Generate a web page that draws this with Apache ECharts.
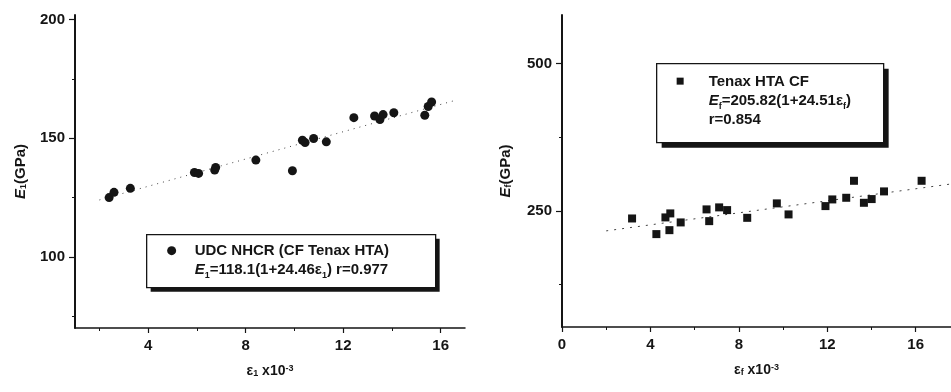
<!DOCTYPE html>
<html>
<head>
<meta charset="utf-8">
<script src="https://cdn.jsdelivr.net/npm/echarts@6/dist/echarts.min.js"></script>
<style>
  html, body { margin: 0; padding: 0; background: #fff; }
  #chart { width: 951px; height: 392px; }
</style>
</head>
<body>
<div id="chart"></div>
<script>
// left panel: UDC NHCR (CF Tenax HTA), strain x10^-3 vs E1 (GPa)
const leftStrain = [2.4, 2.6, 3.27, 5.9, 6.07, 6.73, 6.77, 8.42, 9.92, 10.33, 10.44, 10.79, 11.31, 12.44, 13.29, 13.51, 13.64, 14.08, 15.35, 15.49, 15.63]
const leftModulus = [125, 127.2, 128.9, 135.6, 135.2, 136.6, 137.7, 140.8, 136.3, 149.2, 148.2, 149.9, 148.5, 158.7, 159.4, 157.9, 160, 160.8, 159.7, 163.4, 165.3]
const leftFitX = [2, 16.6]
const leftFitY = [124, 166]

// right panel: Tenax HTA CF, strain x10^-3 vs Ef (GPa)
const rightStrain = [3.17, 4.27, 4.68, 4.86, 4.9, 5.37, 6.54, 6.66, 7.11, 7.47, 8.38, 9.72, 10.25, 11.92, 12.23, 12.86, 13.21, 13.66, 14.01, 14.57, 16.27]
const rightModulus = [237, 210.5, 238.8, 217.2, 245.6, 230.3, 252.4, 232.5, 255.8, 251.2, 238.1, 262.6, 243.9, 258, 269.3, 272.1, 300.9, 263.6, 269.9, 282.9, 300.9]
const rightFitX = [2, 17.7]
const rightFitY = [216, 296]

// tick labels
const leftXTicks = [4, 8, 12, 16]
const leftXMinor = [2, 6, 10, 14]
const leftYTicks = [100, 150, 200]
const leftYMinor = [75, 125, 175]
const rightXTicks = [0, 4, 8, 12, 16]
const rightXMinor = [2, 6, 10, 14]
const rightYTicks = [250, 500]
const rightYMinor = [125, 375]

const FONT = 'Liberation Sans, Arial, sans-serif'
const INK = '#151515'

const zip = (xs, ys) => xs.map((x, i) => [x, ys[i]])

const rich = {
  e: { fontStyle: 'italic', fontWeight: 'bold', fontSize: 15, fontFamily: FONT, color: INK },
  s: { fontWeight: 'bold', fontSize: 9, fontFamily: FONT, color: INK, verticalAlign: 'bottom', lineHeight: 10 },
  p: { fontWeight: 'bold', fontSize: 9, fontFamily: FONT, color: INK, verticalAlign: 'top', lineHeight: 10 }
}

const majorX = (grid, min, max, ticks, name) => ({
  gridIndex: grid,
  type: 'value',
  position: 'bottom',
  min: min,
  max: max,
  name: name,
  nameLocation: 'middle',
  nameGap: 36,
  nameTextStyle: { fontFamily: FONT, fontWeight: 'bold', fontSize: 14, color: INK, rich: rich },
  splitLine: { show: false },
  axisLine: { show: true, lineStyle: { color: INK, width: 1.5 } },
  axisTick: { show: true, customValues: ticks, length: 5, lineStyle: { color: INK, width: 1.2 } },
  axisLabel: { customValues: ticks, margin: 10, fontFamily: FONT, fontWeight: 'bold', fontSize: 15, color: INK }
})

const minorX = (grid, min, max, ticks) => ({
  gridIndex: grid,
  type: 'value',
  position: 'bottom',
  min: min,
  max: max,
  splitLine: { show: false },
  axisLine: { show: false },
  axisTick: { show: true, customValues: ticks, length: 3, lineStyle: { color: INK, width: 1 } },
  axisLabel: { show: false }
})

const majorY = (grid, min, max, ticks, name, gap) => ({
  gridIndex: grid,
  type: 'value',
  position: 'left',
  min: min,
  max: max,
  name: name,
  nameLocation: 'middle',
  nameRotate: 90,
  nameGap: gap,
  nameTextStyle: { fontFamily: FONT, fontWeight: 'bold', fontSize: 15, color: INK, rich: rich },
  splitLine: { show: false },
  axisLine: { show: true, lineStyle: { color: INK, width: 2 } },
  axisTick: { show: true, customValues: ticks, length: 6, lineStyle: { color: INK, width: 1.2 } },
  axisLabel: { customValues: ticks, margin: 10, fontFamily: FONT, fontWeight: 'bold', fontSize: 15, color: INK }
})

const minorY = (grid, min, max, ticks) => ({
  gridIndex: grid,
  type: 'value',
  position: 'left',
  min: min,
  max: max,
  splitLine: { show: false },
  axisLine: { show: false },
  axisTick: { show: true, customValues: ticks, length: 3, lineStyle: { color: INK, width: 1 } },
  axisLabel: { show: false }
})

// legend box drawn as graphic: shadow, frame, marker, text
const legendBox = (x, y, w, h, shadow, marker, lines) => ({
  type: 'group',
  left: x,
  top: y,
  children: [
    { type: 'rect', shape: { x: shadow, y: shadow, width: w, height: h }, style: { fill: INK } },
    { type: 'rect', shape: { x: 0, y: 0, width: w, height: h }, style: { fill: '#fff', stroke: INK, lineWidth: 1.3 } },
    marker,
    {
      type: 'text',
      x: lines.x,
      y: lines.y,
      style: {
        text: lines.text,
        fill: INK,
        font: 'bold 15px ' + FONT,
        lineHeight: lines.lh,
        rich: {
          e: { fontStyle: 'italic', fontWeight: 'bold', fontSize: 15, fontFamily: FONT, fill: INK, lineHeight: lines.lh },
          s: { fontWeight: 'bold', fontSize: 9, fontFamily: FONT, fill: INK, verticalAlign: 'bottom', lineHeight: 10 }
        }
      }
    }
  ]
})

const chart = echarts.init(document.getElementById('chart'))

const option = {
  backgroundColor: '#fff',
  animation: false,
  grid: [
    { left: 75, right: 486, top: 15, bottom: 64 },
    { left: 562, right: 0, top: 15, bottom: 65 }
  ],
  xAxis: [
    majorX(0, 1, 17, leftXTicks, '{g|ε}{s|1} x10{p|-3}'),
    majorX(1, 0, 17.6, rightXTicks, '{g|ε}{s|f} x10{p|-3}'),
    minorX(0, 1, 17, leftXMinor),
    minorX(1, 0, 17.6, rightXMinor)
  ],
  yAxis: [
    majorY(0, 70, 202, leftYTicks, '{e|E}{s|1}(GPa)', 47),
    majorY(1, 53, 582, rightYTicks, '{e|E}{s|f}(GPa)', 49),
    minorY(0, 70, 202, leftYMinor),
    minorY(1, 53, 582, rightYMinor)
  ],
  series: [
    {
      name: 'UDC NHCR (CF Tenax HTA)',
      type: 'scatter',
      xAxisIndex: 0,
      yAxisIndex: 0,
      symbol: 'circle',
      symbolSize: 9,
      itemStyle: { color: INK, opacity: 1 },
      data: zip(leftStrain, leftModulus),
      z: 3
    },
    {
      name: 'fit left',
      type: 'line',
      xAxisIndex: 0,
      yAxisIndex: 0,
      showSymbol: false,
      symbol: 'none',
      lineStyle: { color: '#444', width: 1, type: [1, 5] },
      data: zip(leftFitX, leftFitY)
    },
    {
      name: 'Tenax HTA CF',
      type: 'scatter',
      xAxisIndex: 1,
      yAxisIndex: 1,
      symbol: 'rect',
      symbolSize: 8,
      itemStyle: { color: INK, opacity: 1 },
      data: zip(rightStrain, rightModulus),
      z: 3
    },
    {
      name: 'fit right',
      type: 'line',
      xAxisIndex: 1,
      yAxisIndex: 1,
      showSymbol: false,
      symbol: 'none',
      lineStyle: { color: '#444', width: 1, type: [2, 6] },
      data: zip(rightFitX, rightFitY)
    }
  ],
  graphic: [
    legendBox(146, 234, 289, 53, 4,
      { type: 'circle', shape: { cx: 25, cy: 16, r: 4.5 }, style: { fill: INK } },
      { x: 48, y: 7, lh: 19, text: 'UDC NHCR (CF Tenax HTA)\n{e|E}{s|1}=118.1(1+24.46ε{s|1}) r=0.977' }),
    legendBox(656, 63, 227, 79, 5,
      { type: 'rect', shape: { x: 20, y: 14, width: 7, height: 7 }, style: { fill: INK } },
      { x: 52, y: 9, lh: 19, text: 'Tenax HTA CF\n{e|E}{s|f}=205.82(1+24.51ε{s|f})\nr=0.854' })
  ]
}

chart.setOption(option)
</script>
</body>
</html>
